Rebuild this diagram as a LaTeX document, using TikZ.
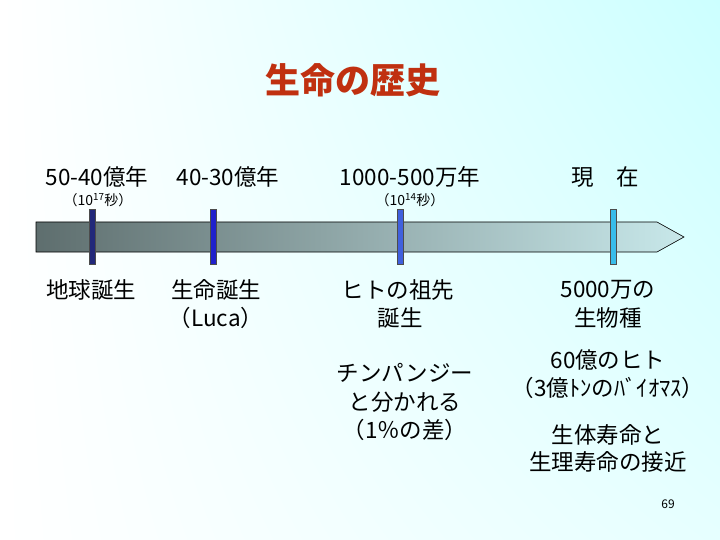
\documentclass[tikz,border=0pt]{standalone}
\usepackage{fontspec}
\usetikzlibrary{shadings}
\setmainfont{Noto Sans CJK JP}
\definecolor{ttl}{HTML}{C03010}
\definecolor{tA}{HTML}{22287A}
\definecolor{tB}{HTML}{2020CC}
\definecolor{tC}{HTML}{4060DD}
\definecolor{tD}{HTML}{38BCEA}
\definecolor{barL}{HTML}{5E6E6E}
\definecolor{barR}{HTML}{C8E8EA}
\definecolor{bgUR}{HTML}{CCFFFF}
\definecolor{bgLR}{HTML}{E6FFFF}
\begin{document}
\begin{tikzpicture}[x=1pt,y=-1pt,
  lbl/.style={font=\fontsize{22.5}{26}\selectfont, inner sep=0pt, anchor=center},
  sml/.style={font=\fontsize{14}{16}\selectfont, inner sep=0pt, anchor=center},
  tick/.style={draw=black!70, line width=0.4pt, minimum width=6pt, minimum height=55pt, inner sep=0pt}]
\useasboundingbox (0,0) rectangle (720,540);
\shade[upper left=white, upper right=bgUR, lower left=white, lower right=bgLR] (0,0) rectangle (720,540);
% bar
\shade[left color=barL, right color=barR] (36,222) -- (657,222) -- (684,237) -- (657,252) -- (36,252) -- cycle;
\draw[black, line width=0.6pt] (36,222) -- (657,222) -- (684,237) -- (657,252) -- (36,252) -- cycle;
% ticks
\node[tick, fill=tA] (k1) at (92,237) {};
\node[tick, fill=tB] (k2) at (213,237) {};
\node[tick, fill=tC] (k3) at (400,237) {};
\node[tick, fill=tD] (k4) at (613,237) {};
% title
\node[font=\fontsize{35}{38}\selectfont\bfseries, text=ttl, inner sep=0pt] (title) at (353,80) {生命の歴史};
% top labels
\node[lbl] (a1) at (97,177) {50-40億年};
\node[lbl] (a2) at (228,177) {40-30億年};
\node[lbl] (a3) at (410,177) {1000-500万年};
\node[lbl] (a4) at (605,177) {現\hspace{1em}在};
\node[sml] (s1) at (98,200) {（10\textsuperscript{17}秒）};
\node[sml] (s3) at (410,200) {（10\textsuperscript{14}秒）};
% bottom labels
\node[lbl] (b1) at (91,290) {地球誕生};
\node[lbl] (b2) at (216,290) {生命誕生};
\node[lbl] (b2b) at (216,318) {（Luca）};
\node[lbl] (b3) at (398,290) {ヒトの祖先};
\node[lbl] (b3b) at (400,318) {誕生};
\node[lbl] (b4) at (608,290) {5000万の};
\node[lbl] (b4b) at (608,318) {生物種};
\node[lbl] (c1) at (405,373) {チンパンジー};
\node[lbl] (c2) at (405,402) {と分かれる};
\node[lbl] (c3) at (405,430) {（1％の差）};
\node[lbl] (d1) at (608,360) {60億のヒト};
\node[lbl] (d2) at (608,388) {（3億ﾄﾝのﾊﾞｲｵﾏｽ）};
\node[lbl] (d3) at (608,435) {生体寿命と};
\node[lbl] (d4) at (608,462) {生理寿命の接近};
\node[sml, font=\fontsize{12}{14}\selectfont] (pg) at (668,504) {69};
\end{tikzpicture}
\end{document}
